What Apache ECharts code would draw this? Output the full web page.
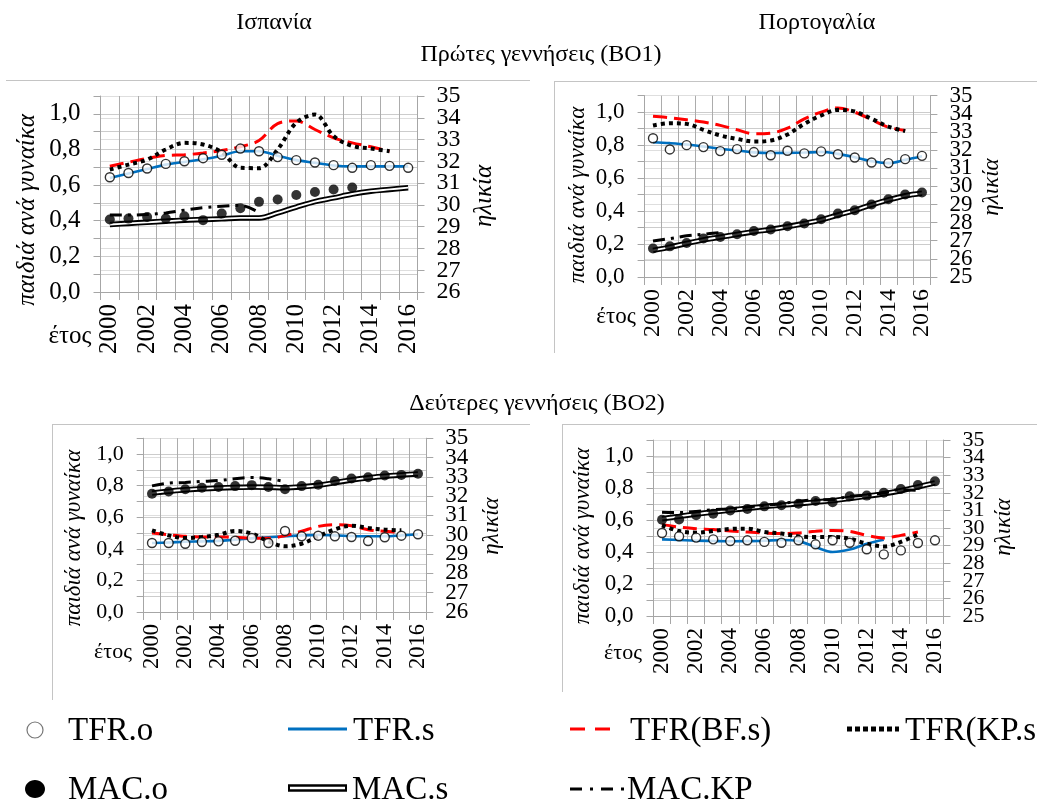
<!DOCTYPE html>
<html>
<head>
<meta charset="utf-8">
<script src="https://cdn.jsdelivr.net/npm/echarts@6/dist/echarts.min.js"></script>
<style>
html,body{margin:0;padding:0;background:#fff;}
#main{width:1037px;height:803px;}
</style>
</head>
<body>
<div id="main"></div>
<script>
// ---------------- DATA ----------------
const years = ['2000','2001','2002','2003','2004','2005','2006','2007','2008','2009','2010','2011','2012','2013','2014','2015','2016'];

// Spain, first births (BO1)
const esBO1_TFRo  = [0.644,0.668,0.693,0.719,0.734,0.751,0.770,0.805,0.790,0.757,0.740,0.727,0.712,0.697,0.712,0.708,0.697];
const esBO1_TFRs  = [0.640,0.665,0.690,0.715,0.730,0.745,0.765,0.790,0.790,0.765,0.740,0.725,0.710,0.705,0.705,0.705,0.705];
const esBO1_TFRbf = [0.706,0.728,0.750,0.766,0.770,0.780,0.794,0.815,0.850,0.945,0.960,0.912,0.865,0.837,0.815,0.790];
const esBO1_TFRkp = [0.687,0.715,0.743,0.800,0.837,0.828,0.785,0.697,0.695,0.800,0.950,0.996,0.875,0.820,0.805,0.790];
const esBO1_MACo  = [29.33,29.37,29.44,29.37,29.48,29.30,29.60,29.85,30.14,30.25,30.45,30.59,30.71,30.80];
const esBO1_MACs  = [29.10,29.15,29.20,29.25,29.30,29.33,29.36,29.40,29.40,29.63,29.90,30.15,30.32,30.50,30.63,30.71,30.79];
const esBO1_MACkp = [29.53,29.53,29.56,29.63,29.76,29.87,29.94,29.98,29.65];

// Portugal, first births (BO1)
const ptBO1_TFRo  = [0.842,0.774,0.800,0.788,0.764,0.776,0.758,0.739,0.766,0.750,0.762,0.745,0.725,0.695,0.691,0.715,0.735];
const ptBO1_TFRs  = [0.818,0.812,0.804,0.792,0.778,0.768,0.756,0.752,0.753,0.755,0.758,0.747,0.727,0.703,0.691,0.711,0.733];
const ptBO1_TFRbf = [0.976,0.966,0.954,0.940,0.920,0.893,0.869,0.873,0.903,0.960,1.000,1.026,1.000,0.954,0.909,0.889];
const ptBO1_TFRkp = [0.919,0.933,0.929,0.893,0.859,0.838,0.822,0.828,0.865,0.929,0.980,1.014,1.004,0.960,0.913,0.885];
const ptBO1_MACo  = [26.57,26.69,26.88,27.12,27.21,27.36,27.54,27.62,27.80,27.95,28.19,28.50,28.68,29.00,29.29,29.55,29.66];
const ptBO1_MACs  = [26.47,26.65,26.85,27.05,27.20,27.35,27.50,27.62,27.78,27.95,28.15,28.42,28.68,28.98,29.25,29.48,29.62];
const ptBO1_MACkp = [26.99,27.12,27.27,27.36,27.45];

// Spain, second births (BO2)
const esBO2_TFRo  = [0.437,0.437,0.432,0.443,0.447,0.451,0.468,0.437,0.513,0.479,0.483,0.479,0.475,0.449,0.473,0.483,0.492];
const esBO2_TFRs  = [0.437,0.440,0.445,0.447,0.450,0.458,0.466,0.473,0.479,0.485,0.487,0.485,0.481,0.479,0.479,0.485,0.492];
const esBO2_TFRbf = [0.500,0.489,0.479,0.475,0.475,0.473,0.468,0.466,0.483,0.511,0.542,0.553,0.546,0.521,0.511,0.504];
const esBO2_TFRkp = [0.517,0.485,0.468,0.475,0.489,0.513,0.496,0.447,0.416,0.432,0.479,0.523,0.546,0.532,0.521,0.517];
const esBO2_MACo  = [32.12,32.24,32.36,32.43,32.47,32.52,32.57,32.47,32.36,32.52,32.59,32.78,32.91,32.98,33.07,33.10,33.16];
const esBO2_MACs  = [32.16,32.25,32.33,32.38,32.42,32.45,32.47,32.46,32.44,32.48,32.56,32.70,32.84,32.95,33.03,33.10,33.15];
const esBO2_MACkp = [32.53,32.67,32.71,32.76,32.81,32.90,32.97,32.90,32.76];

// Portugal, second births (BO2)
const ptBO2_TFRo  = [0.519,0.498,0.490,0.479,0.469,0.473,0.463,0.458,0.473,0.448,0.473,0.458,0.417,0.385,0.410,0.456,0.473];
const ptBO2_TFRs  = [0.479,0.475,0.471,0.469,0.467,0.468,0.470,0.475,0.468,0.431,0.400,0.415,0.452,0.477];
const ptBO2_TFRbf = [0.571,0.556,0.546,0.540,0.531,0.525,0.519,0.515,0.519,0.529,0.535,0.529,0.504,0.488,0.504,0.525];
const ptBO2_TFRkp = [0.567,0.531,0.521,0.531,0.544,0.546,0.525,0.515,0.498,0.494,0.494,0.483,0.452,0.435,0.463,0.510];
const ptBO2_MACo  = [30.47,30.49,30.72,30.81,31.00,31.08,31.23,31.29,31.38,31.53,31.46,31.80,31.84,32.00,32.22,32.44,32.65];
const ptBO2_MACs  = [30.53,30.66,30.79,30.91,31.02,31.12,31.22,31.30,31.38,31.47,31.56,31.68,31.81,31.95,32.12,32.33,32.56];
const ptBO2_MACkp = [30.90,30.88,30.94,31.04,31.08,31.19,31.29,31.38,31.53,31.60,31.62,31.80,31.86,32.00,32.18,32.14];

// Tick labels of the age (right) axes
const ageTicksES = ['26','27','28','29','30','31','32','33','34','35'];
const ageTicksPT = ['25','26','27','28','29','30','31','32','33','34','35'];

// Texts
const countryTitles = ['Ισπανία', 'Πορτογαλία'];
const rowTitles = ['Πρώτες γεννήσεις (BO1)', 'Δεύτερες γεννήσεις (BO2)'];
const leftAxisName = 'παιδιά ανά γυναίκα';
const rightAxisName = 'ηλικία';
const xAxisName = 'έτος';
const legendNames = ['TFR.o','TFR.s','TFR(BF.s)','TFR(KP.s)','MAC.o','MAC.s','MAC.KP'];

// ---------------- LAYOUT ----------------
const FONT = '"Liberation Serif", "Times New Roman", serif';
const panels = [
  {d:[esBO1_TFRo,esBO1_TFRs,esBO1_TFRbf,esBO1_TFRkp,esBO1_MACo,esBO1_MACs,esBO1_MACkp], ticks:ageTicksES,
   g:{left:100.5, top:96, width:317, height:196}, fx:25, fl:25, fr:24,
   ln:{x:27,y:210,s:25}, rn:{x:484,y:196,s:25}, et:{x:70,y:336,s:25}},
  {d:[ptBO1_TFRo,ptBO1_TFRs,ptBO1_TFRbf,ptBO1_TFRkp,ptBO1_MACo,ptBO1_MACs,ptBO1_MACkp], ticks:ageTicksPT,
   g:{left:644.6, top:95.7, width:285.8, height:181.3}, fx:24, fl:23, fr:23,
   ln:{x:578,y:195,s:23}, rn:{x:992,y:187,s:23}, et:{x:616,y:317,s:23}},
  {d:[esBO2_TFRo,esBO2_TFRs,esBO2_TFRbf,esBO2_TFRkp,esBO2_MACo,esBO2_MACs,esBO2_MACkp], ticks:ageTicksES,
   g:{left:143.7, top:438.2, width:282.6, height:173.8}, fx:22.5, fl:22, fr:23,
   ln:{x:74,y:538,s:23}, rn:{x:492,y:526,s:23}, et:{x:113,y:652,s:22}},
  {d:[ptBO2_TFRo,ptBO2_TFRs,ptBO2_TFRbf,ptBO2_TFRkp,ptBO2_MACo,ptBO2_MACs,ptBO2_MACkp], ticks:ageTicksPT,
   g:{left:653.5, top:440, width:290, height:176}, fx:23, fl:23, fr:22,
   ln:{x:583,y:536,s:23}, rn:{x:1004,y:527,s:23}, et:{x:623,y:653,s:22}}
];

const GRID_V = '#acacac', GRID_H = '#cccccc', GRID_R = '#dedede', AX = '#a6a6a6';
const grids = [], xAxes = [], yAxes = [], series = [], graphics = [];

panels.forEach((p, i) => {
  grids.push(Object.assign({containLabel:false}, p.g));
  xAxes.push({
    type:'category', gridIndex:i, data:years, boundaryGap:true,
    axisLine:{show:true, lineStyle:{color:AX}},
    axisTick:{show:true, interval:0, length:8, lineStyle:{color:AX}},
    splitLine:{show:true, interval:0, lineStyle:{color:GRID_V}},
    axisLabel:{interval:1, rotate:90, margin:12, color:'#000', fontFamily:FONT, fontSize:p.fx}
  });
  const yl = yAxes.length;
  yAxes.push({
    type:'value', gridIndex:i, position:'left', min:0, max:1.1, interval:0.1,
    axisLine:{show:true, lineStyle:{color:AX}},
    axisTick:{show:true, length:7, lineStyle:{color:AX}},
    splitLine:{show:true, lineStyle:{color:GRID_H}},
    axisLabel:{margin:20, color:'#000', fontFamily:FONT, fontSize:p.fl, showMinLabel:true,
      formatter: v => { const k = Math.round(v*10); return (k%2===0 && k<=10) ? (k/10).toFixed(1).replace('.', ',') : ''; }}
  });
  const yr = yAxes.length;
  const amin = +p.ticks[0], amax = +p.ticks[p.ticks.length-1];
  yAxes.push({
    type:'value', gridIndex:i, position:'right', min:amin, max:amax, interval:1,
    axisLine:{show:true, lineStyle:{color:AX}},
    axisTick:{show:true, length:7, lineStyle:{color:AX}},
    splitLine:{show:true, lineStyle:{color:GRID_R}},
    axisLabel:{show:false}
  });
  // label-only axis for the age ticks (all labels shown, even when they touch)
  yAxes.push({
    type:'category', gridIndex:i, position:'right', data:p.ticks, boundaryGap:false,
    axisLine:{show:false}, axisTick:{show:false}, splitLine:{show:false},
    axisLabel:{interval:0, margin:19, color:'#000', fontFamily:FONT, fontSize:p.fr}
  });
  const base = {xAxisIndex:i, animation:false, silent:true};
  const line = (name, data, yIdx, ls, z) => Object.assign({}, base, {
    name, type:'line', yAxisIndex:yIdx, data, smooth:0.35, showSymbol:false, symbol:'none',
    lineStyle:ls, z:z, connectNulls:false
  });
  const [TFRo, TFRs, TFRbf, TFRkp, MACo, MACs, MACkp] = p.d;
  series.push(line('MAC.s', MACs, yr, {color:'#000', width:5.5, cap:'butt'}, 2));
  series.push(line('MAC.s', MACs, yr, {color:'#fff', width:1.8, cap:'butt'}, 3));
  series.push(line('MAC.KP', MACkp, yr, {color:'#000', width:3, type:[12,6,3,6], cap:'butt'}, 3));
  series.push(line('TFR.s', TFRs, yl, {color:'#0070c0', width:2.6}, 3));
  series.push(line('TFR(BF.s)', TFRbf, yl, {color:'#ff0000', width:3, type:[14,7], cap:'butt'}, 4));
  series.push(line('TFR(KP.s)', TFRkp, yl, {color:'#000', width:4, type:[4,4], cap:'butt'}, 5));
  series.push(Object.assign({}, base, {name:'TFR.o', type:'scatter', yAxisIndex:yl, data:TFRo,
    symbol:'circle', symbolSize:9, itemStyle:{color:'#fff', borderColor:'#000', borderWidth:1.4}, z:6}));
  series.push(Object.assign({}, base, {name:'MAC.o', type:'scatter', yAxisIndex:yr, data:MACo,
    symbol:'circle', symbolSize:10, itemStyle:{color:'#000'}, z:6}));

  const txt = (t, x, y, s, rot, italic) => ({type:'text', x, y, rotation:rot||0, silent:true, z:10,
    style:{text:t, x:0, y:0, fill:'#000', font:(italic?'italic ':'')+s+'px '+FONT,
      textAlign:'center', textVerticalAlign:'middle', align:'center', verticalAlign:'middle'}});
  graphics.push(txt(leftAxisName, p.ln.x, p.ln.y, p.ln.s, Math.PI/2, true));
  graphics.push(txt(rightAxisName, p.rn.x, p.rn.y, p.rn.s, Math.PI/2, true));
  graphics.push(txt(xAxisName, p.et.x, p.et.y, p.et.s, 0, false));
});

const T = (t, x, y, s) => ({type:'text', x, y, silent:true, z:10,
  style:{text:t, x:0, y:0, fill:'#000', font:s+'px '+FONT,
    textAlign:'center', textVerticalAlign:'middle', align:'center', verticalAlign:'middle'}});
const TL = (t, x, y, s) => ({type:'text', x, y, silent:true, z:10,
  style:{text:t, x:0, y:0, fill:'#000', font:s+'px '+FONT,
    textAlign:'left', textVerticalAlign:'middle', align:'left', verticalAlign:'middle'}});
const L = (x1,y1,x2,y2,stroke,w,dash) => ({type:'line', silent:true, z:9,
  shape:{x1,y1,x2,y2}, style:{stroke, lineWidth:w, lineDash:dash||null, lineCap:'butt'}});

// titles
graphics.push(T(countryTitles[0], 274, 23, 24));
graphics.push(T(countryTitles[1], 817, 23, 24));
graphics.push(T(rowTitles[0], 541, 55, 24));
graphics.push(T(rowTitles[1], 537, 404, 24));

// panel frames
const FR = '#c4c4c4';
graphics.push(L(6,80.5,530,80.5,FR,1));
graphics.push(L(554,81.5,1037,81.5,FR,1));
graphics.push(L(554.5,81,554.5,353,FR,1));
graphics.push(L(52,424.5,530,424.5,FR,1));
graphics.push(L(52.5,424,52.5,700,FR,1));
graphics.push(L(562,424.5,1037,424.5,FR,1));
graphics.push(L(562.5,424,562.5,692,FR,1));

// legend
const LF = 33;
graphics.push({type:'circle', silent:true, shape:{cx:35, cy:730, r:8}, style:{fill:'#fff', stroke:'#777', lineWidth:1.2}});
graphics.push(TL(legendNames[0], 68, 731, LF));
graphics.push(L(288,729,347,729,'#0070c0',3));
graphics.push(TL(legendNames[1], 353, 731, LF));
graphics.push(L(570,729,614,729,'#ff0000',3,[15,10]));
graphics.push(TL(legendNames[2], 630, 731, LF));
graphics.push(L(847,729,899,729,'#000',5,[5,3]));
graphics.push(TL(legendNames[3], 905, 731, LF));
graphics.push({type:'ellipse', silent:true, shape:{cx:35, cy:789, rx:10, ry:9}, style:{fill:'#000'}});
graphics.push(TL(legendNames[4], 68, 790, LF));
graphics.push(L(288,788,347,788,'#000',7.5));
graphics.push(L(290,788,345,788,'#fff',2.5));
graphics.push(TL(legendNames[5], 352, 790, LF));
graphics.push(L(570,789,627,789,'#000',3,[12,8,3,8]));
graphics.push(TL(legendNames[6], 627, 790, LF));

const chart = echarts.init(document.getElementById('main'), null, {renderer:'canvas'});
chart.setOption({
  backgroundColor:'#fff',
  animation:false,
  textStyle:{fontFamily:FONT},
  grid:grids, xAxis:xAxes, yAxis:yAxes, series:series, graphic:graphics
});
</script>
</body>
</html>
